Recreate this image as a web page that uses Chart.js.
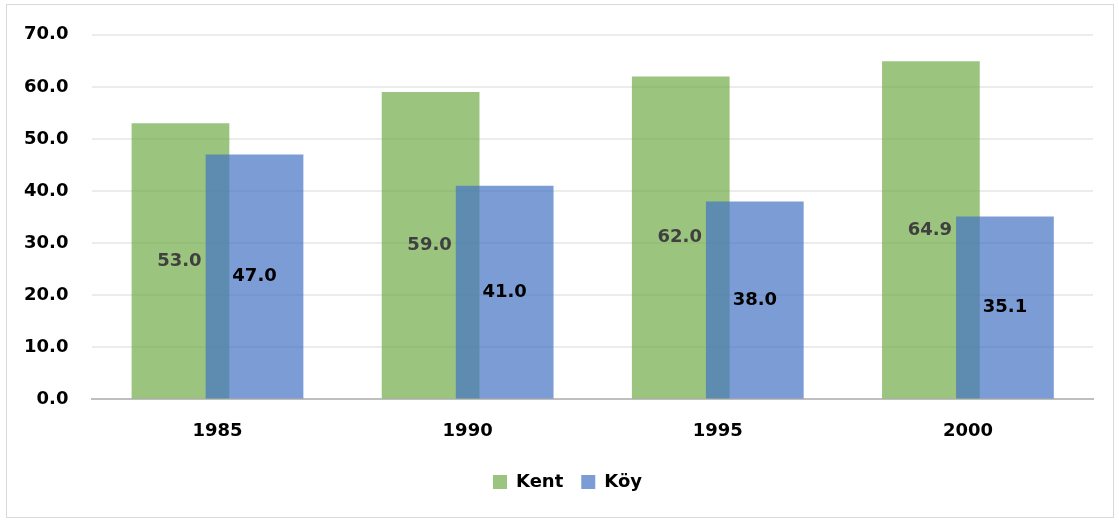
<!DOCTYPE html>
<html>
<head>
<meta charset="utf-8">
<script src="https://cdn.jsdelivr.net/npm/chart.js@4"></script>
<style>
  html, body { margin: 0; padding: 0; background: #fff; }
  #wrap { position: relative; width: 1119px; height: 521px; }
  #frame { position: absolute; left: 6px; top: 4px; width: 1106px; height: 512px; border: 1px solid #d9d9d9; pointer-events: none; }
  canvas { position: absolute; left: 0; top: 0; }
</style>
</head>
<body>
<div id="wrap">
  <canvas id="chart" width="1119" height="521"></canvas>
  <div id="frame"></div>
</div>
<script>
// Data
const years = ['1985', '1990', '1995', '2000'];
const kent = [53.0, 59.0, 62.0, 64.9];
const koy = [47.0, 41.0, 38.0, 35.1];
const yTicksMax = 70;
const yTicksStep = 10;

const FONT = "'DejaVu Sans', sans-serif";

// Köy bars sit on top of Kent bars: skip them in the normal pass, draw them afterwards
const koyOnTop = {
    id: 'koyOnTop',
    afterLayout(chart) {
        // legend sits a bit right of the canvas centre in the original
        chart.legend.left += 21;
        chart.legend.right += 21;
    },
    beforeDatasetDraw(chart, args) {
        if (args.index === 1) return false;
    },
    afterDatasetsDraw(chart) {
        const meta = chart.getDatasetMeta(1);
        const area = chart.chartArea;
        const ctx = chart.ctx;
        ctx.save();
        ctx.beginPath();
        ctx.rect(area.left, area.top, area.right - area.left, area.bottom - area.top);
        ctx.clip();
        meta.controller.draw();
        ctx.restore();

        // value labels: Kent right-aligned before the overlap, Köy left-aligned after it
        const kentMeta = chart.getDatasetMeta(0);
        ctx.save();
        ctx.font = 'bold 18px ' + FONT;
        ctx.textBaseline = 'middle';
        kentMeta.data.forEach((bar, i) => {
            const other = meta.data[i];
            ctx.fillStyle = '#404040';
            ctx.textAlign = 'right';
            ctx.fillText(kent[i].toFixed(1), other.x - other.width / 2 - 4, (bar.y + bar.base) / 2);
        });
        meta.data.forEach((bar, i) => {
            const other = kentMeta.data[i];
            ctx.fillStyle = '#000';
            ctx.textAlign = 'left';
            ctx.fillText(koy[i].toFixed(1), other.x + other.width / 2 + 3, (bar.y + bar.base) / 2);
        });
        ctx.restore();
    }
};

new Chart(document.getElementById('chart'), {
    type: 'bar',
    data: {
        labels: years,
        datasets: [
            {
                label: 'Kent',
                data: kent,
                backgroundColor: 'rgba(112, 173, 71, 0.7)',
                categoryPercentage: 0.592,
                barPercentage: 1.32
            },
            {
                label: 'Köy',
                data: koy,
                backgroundColor: 'rgba(68, 114, 196, 0.7)',
                categoryPercentage: 0.592,
                barPercentage: 1.32
            }
        ]
    },
    options: {
        responsive: false,
        animation: false,
        layout: { padding: { left: 0, right: 26, top: 22, bottom: 20 } },
        plugins: {
            legend: {
                position: 'bottom',
                labels: {
                    boxWidth: 14,
                    boxHeight: 14,
                    padding: 18,
                    color: '#000',
                    font: { family: FONT, size: 18, weight: 'bold' }
                }
            },
            tooltip: { enabled: false }
        },
        scales: {
            x: {
                grid: { display: false },
                border: { color: '#bfbfbf', width: 2 },
                ticks: {
                    color: '#000',
                    padding: 13,
                    font: { family: FONT, size: 18, weight: 'bold' }
                }
            },
            y: {
                min: 0,
                max: yTicksMax,
                grid: { color: '#ececec', lineWidth: 2, drawTicks: false },
                border: { display: false },
                ticks: {
                    stepSize: yTicksStep,
                    padding: 24,
                    color: '#000',
                    font: { family: FONT, size: 18, weight: 'bold' },
                    callback: v => v.toFixed(1)
                }
            }
        }
    },
    plugins: [koyOnTop]
});
</script>
</body>
</html>
